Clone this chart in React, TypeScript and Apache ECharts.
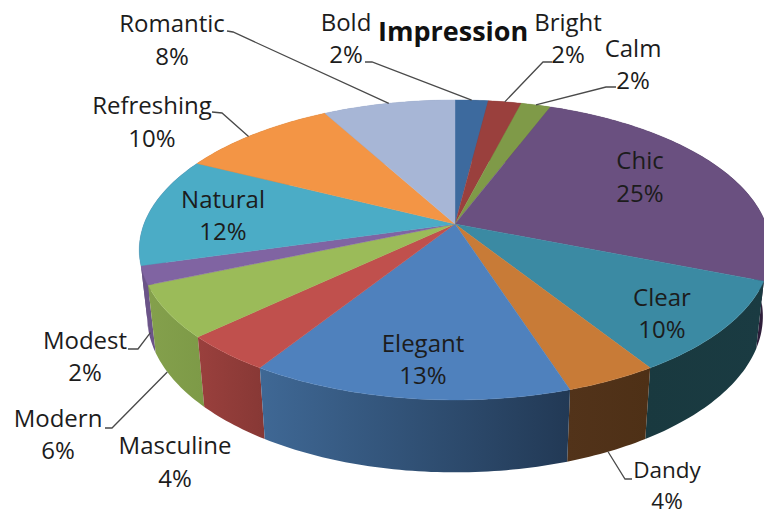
import React, { useEffect, useRef } from "react";
import * as echarts from "echarts";

const titleText = "Impression";
const categories = ["Bold", "Bright", "Calm", "Chic", "Clear", "Dandy", "Elegant", "Masculine", "Modern", "Modest", "Natural", "Refreshing", "Romantic"];
// printed percentages
const percentLabels = [2, 2, 2, 25, 10, 4, 13, 4, 6, 2, 12, 10, 8];
// slice sizes as measured on the picture
const shares = [2, 2, 1.8, 25.2, 10, 4, 14, 4, 5.6, 2, 11.8, 9.6, 8];
const topColors = ["#3d6a9e", "#9a403d", "#7f9a48", "#6a5080", "#3b8aa3", "#c87b37", "#4f81bd", "#c0504d", "#9bbb59", "#8064a2", "#4bacc6", "#f39545", "#a7b6d6"];
const sideColors: [string, string][] = [
  ["#2c4d73", "#2c4d73"], ["#6f2e2c", "#6f2e2c"], ["#5c7034", "#5c7034"], ["#3a2646", "#2e1e3a"],
  ["#19393f", "#1a3b42"], ["#52331a", "#4e3016"], ["#3f6895", "#223955"], ["#9a403d", "#873835"],
  ["#84a04c", "#7d9a47"], ["#6b5488", "#6b5488"], ["#6b5488", "#6b5488"], ["#b06a30", "#b06a30"], ["#8090b0", "#8090b0"],
];

// label centres: x, name line y, percent line y, font size
const labelCentres: [number, number, number, number][] = [
  [346, 21.5, 53.5, 24], [568, 21.5, 53.5, 24], [633, 47.5, 79.5, 24], [640, 159.5, 192.5, 24], [662, 296.5, 328.5, 24], [667, 469.5, 500.5, 22.5], [423, 342.5, 374.5, 24],
  [175, 444.5, 477.5, 24], [58, 417.5, 449.5, 24], [85, 339.5, 371.5, 24], [223, 198.5, 230.5, 24], [152, 104.5, 137.5, 24], [172, 22.5, 55.5, 24],
];
// leader: label-side points, then position in slice (fraction of sweep, fraction of depth)
const leaders: ([number, number][] | null)[] = [
  [[365, 62], [372, 62]], [[552, 62], [543, 62]], [[616, 87], [606, 87]], null, null,
  [[632, 479], [625, 479]], null, null, [[105, 428], [112, 428]], [[128, 349], [138, 349]], null,
  [[212, 112], [222, 113]], [[227, 31], [233, 32]],
];
const leaderAnchors: [number, number][] = [
  [0.5, 0], [0.5, 0], [0.5, 0], [0, 0], [0, 0], [0.5, 1], [0, 0], [0, 0], [0.66, 1], [0.5, 0.85], [0, 0], [0.45, 0], [0.5, 0],
];

const CX = 455, CY = 224, RX = 311, RY = 145.5, K = 0.173;
const SHRINK = 0.975;
const FONT = "'Open Sans', 'Noto Sans', sans-serif";

function project(deg: number, depth: number): [number, number] {
  const t = (deg * Math.PI) / 180;
  const sx = Math.sin(t), cy = Math.cos(t);
  const w = 1 + K * cy;
  const dx = (RX * sx) / w;
  const dy = (-RY * cy) / w;
  const s = 1 - (1 - SHRINK) * depth;
  return [CX + dx * s, CY + dy + depth * (65.4 + 0.04 * dy)];
}

function arc(a: number, b: number, depth: number): [number, number][] {
  const pts: [number, number][] = [];
  const n = Math.max(2, Math.ceil(b - a));
  for (let i = 0; i <= n; i++) pts.push(project(a + ((b - a) * i) / n, depth));
  return pts;
}

const total = shares.reduce((p, c) => p + c, 0);
const starts: number[] = [];
shares.reduce((acc, v, i) => {
  starts[i] = acc;
  return acc + v;
}, 0);

function labelText(text: string, x: number, y: number, size: number) {
  return {
    type: "text",
    z2: 500,
    x,
    y,
    style: {
      text,
      font: `${size}px ${FONT}`,
      fill: "#1c1c1c",
      align: "center",
      verticalAlign: "middle",
    },
  };
}

function renderItem(params: any, api: any) {
  const i = params.dataIndex;
  const v = api.value(0) as number;
  const a = (starts[i] / total) * 360;
  const b = ((starts[i] + v) / total) * 360;
  const children: any[] = [];
  const sidePts = [...arc(a, b, 0), ...arc(a, b, 1).reverse()];
  children.push({
    type: "polygon",
    z2: 1 + (180 - Math.abs(180 - (a + b) / 2)),
    shape: { points: sidePts },
    style: {
      fill: new echarts.graphic.LinearGradient(0, 0, 1, 0, [
        { offset: 0, color: sideColors[i][0] },
        { offset: 1, color: sideColors[i][1] },
      ]),
    },
  });
  children.push({
    type: "polygon",
    z2: 300,
    shape: { points: [[CX, CY], ...arc(a, b, 0)] },
    style: { fill: topColors[i], stroke: topColors[i], lineWidth: 0.4 },
  });
  const pts = leaders[i];
  if (pts) {
    const [f, d] = leaderAnchors[i];
    children.push({
      type: "polyline",
      z2: 400,
      shape: { points: [...pts, project(a + (b - a) * f, d)] },
      style: { stroke: "#4a4a4a", lineWidth: 1.3, fill: "none" },
    });
  }
  const [lx, ly1, ly2, size] = labelCentres[i];
  children.push(labelText(categories[i], lx, ly1, size));
  children.push(labelText(`${percentLabels[i]}%`, lx, ly2, size));
  return { type: "group", children };
}

export default function App() {
  const ref = useRef<HTMLDivElement>(null);
  useEffect(() => {
    document.body.style.margin = "0";
    const chart = echarts.init(ref.current!, undefined, { renderer: "svg" });
    chart.setOption({
      animation: false,
      backgroundColor: "#ffffff",
      title: {
        text: titleText,
        left: 378,
        top: 17,
        padding: 0,
        textStyle: { fontFamily: FONT, fontWeight: "bold", fontSize: 27, color: "#111111" },
      },
      series: [
        {
          type: "custom",
          coordinateSystem: "none",
          silent: true,
          renderItem,
          data: categories.map((name, i) => ({ name, value: [shares[i]] })),
        },
      ],
    });
    return () => chart.dispose();
  }, []);
  return <div ref={ref} style={{ width: 764, height: 516 }} />;
}
